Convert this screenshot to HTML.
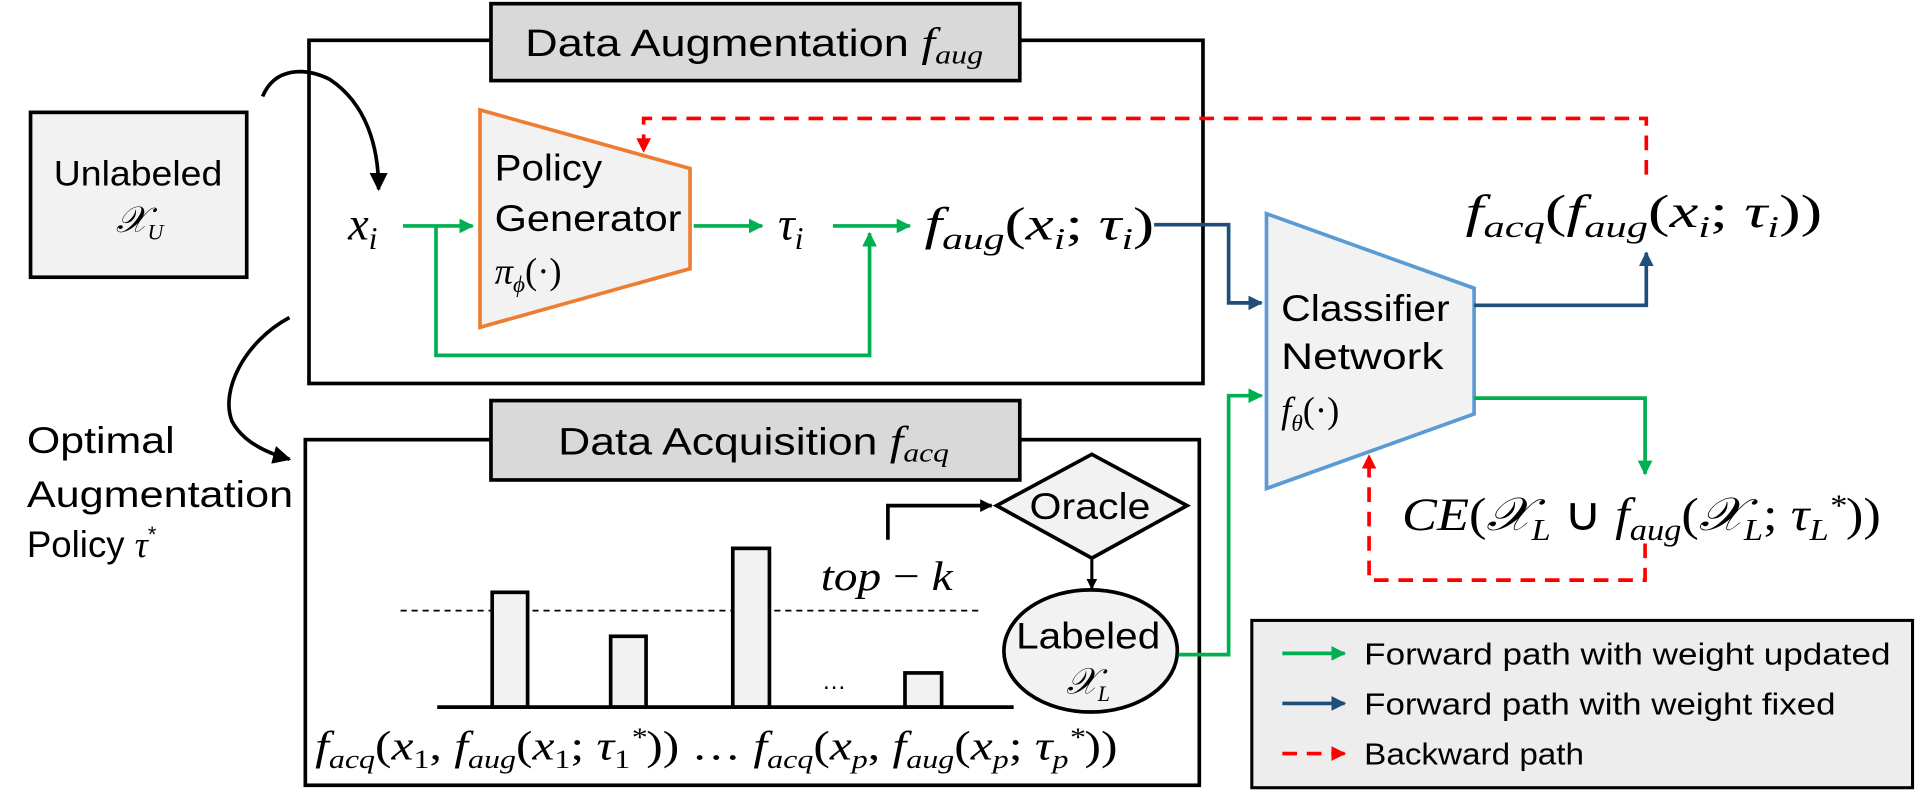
<!DOCTYPE html>
<html><head><meta charset="utf-8"><style>
html,body{margin:0;padding:0;background:#fff;width:1915px;height:792px;overflow:hidden}
svg{display:block}
.s{font-family:"Liberation Sans",sans-serif}
.m{font-family:"Liberation Serif",serif;font-style:italic}
</style></head><body>
<svg width="1915" height="792" viewBox="0 0 1568 648.5" xmlns="http://www.w3.org/2000/svg">
<defs>
<marker id="ag" viewBox="0 0 10 10" refX="9" refY="5" markerWidth="4" markerHeight="4" orient="auto"><path d="M0,0L10,5L0,10z" fill="#00B050"/></marker>
<marker id="ab" viewBox="0 0 10 10" refX="9" refY="5" markerWidth="4" markerHeight="4" orient="auto"><path d="M0,0L10,5L0,10z" fill="#1F4E79"/></marker>
<marker id="ar" viewBox="0 0 10 10" refX="9" refY="5" markerWidth="4" markerHeight="4" orient="auto"><path d="M0,0L10,5L0,10z" fill="#FF0000"/></marker>
<marker id="ak" viewBox="0 0 10 10" refX="9" refY="5" markerWidth="5" markerHeight="5" orient="auto"><path d="M0,0L10,5L0,10z" fill="#000"/></marker>
<marker id="ak2" viewBox="0 0 10 10" refX="9" refY="5" markerWidth="3.5" markerHeight="3.5" orient="auto"><path d="M0,0L10,5L0,10z" fill="#000"/></marker>
</defs>
<!-- Aug box -->
<rect x="253" y="33" width="732" height="281" fill="none" stroke="#000" stroke-width="3"/>
<rect x="402" y="3" width="433" height="63" fill="#D9D9D9" stroke="#000" stroke-width="3"/>
<text x="430" y="46" font-size="31" class="s" textLength="375" lengthAdjust="spacingAndGlyphs">Data Augmentation <tspan class="m" font-size="34">f</tspan><tspan class="m" font-size="22" dy="6">aug</tspan></text>
<!-- Unlabeled -->
<rect x="25" y="92" width="177" height="135" fill="#F2F2F2" stroke="#000" stroke-width="3"/>
<text x="44" y="152" font-size="29" class="s" textLength="138" lengthAdjust="spacingAndGlyphs">Unlabeled</text>
<text x="95" y="190" font-size="30" class="m">𝒳<tspan font-size="18" dy="6">U</tspan></text>
<!-- curves -->
<path d="M215,79 C225,55 250,55 270,65 C300,85 310,120 310,155" fill="none" stroke="#000" stroke-width="3" marker-end="url(#ak)"/>
<path d="M237,260 C200,280 180,320 190,345 C198,360 215,370 237,376" fill="none" stroke="#000" stroke-width="3" marker-end="url(#ak)"/>
<!-- policy generator -->
<path d="M393,90 L565,138 L565,220 L393,268 Z" fill="#F2F2F2" stroke="#ED7D31" stroke-width="3"/>
<text x="405" y="148" font-size="30" class="s" textLength="88" lengthAdjust="spacingAndGlyphs">Policy</text>
<text x="405" y="189" font-size="30" class="s" textLength="153" lengthAdjust="spacingAndGlyphs">Generator</text>
<text x="405" y="232" font-size="30" class="m">π<tspan font-size="19" dy="7">ϕ</tspan><tspan dy="-7" style="font-style:normal">(·)</tspan></text>
<text x="285" y="196" font-size="38" class="m">x<tspan font-size="26" dy="8">i</tspan></text>
<path d="M330,185 L387,185" stroke="#00B050" stroke-width="3" fill="none" marker-end="url(#ag)"/>
<path d="M357,185 L357,291 L712,291 L712,191" stroke="#00B050" stroke-width="3" fill="none" marker-end="url(#ag)"/>
<path d="M568,185 L624,185" stroke="#00B050" stroke-width="3" fill="none" marker-end="url(#ag)"/>
<text x="637" y="196" font-size="38" class="m">τ<tspan font-size="26" dy="8">i</tspan></text>
<path d="M682,185 L745,185" stroke="#00B050" stroke-width="3" fill="none" marker-end="url(#ag)"/>
<text x="757" y="196" font-size="38" class="m" textLength="188" lengthAdjust="spacingAndGlyphs">f<tspan font-size="25" dy="8">aug</tspan><tspan dy="-8" style="font-style:normal">(</tspan>x<tspan font-size="25" dy="8">i</tspan><tspan dy="-8" style="font-style:normal">; </tspan>τ<tspan font-size="25" dy="8">i</tspan><tspan dy="-8" style="font-style:normal">)</tspan></text>
<path d="M945,184 L1006,184 L1006,248 L1033,248" stroke="#1F4E79" stroke-width="3" fill="none" marker-end="url(#ab)"/>
<!-- classifier -->
<path d="M1037,175 L1207,236 L1207,339 L1037,400 Z" fill="#F2F2F2" stroke="#5B9BD5" stroke-width="3"/>
<text x="1049" y="263" font-size="30" class="s" textLength="138" lengthAdjust="spacingAndGlyphs">Classifier</text>
<text x="1049" y="302" font-size="30" class="s" textLength="133" lengthAdjust="spacingAndGlyphs">Network</text>
<text x="1049" y="346" font-size="30" class="m">f<tspan font-size="19" dy="7">θ</tspan><tspan dy="-7" style="font-style:normal">(·)</tspan></text>
<path d="M1207,250 L1348,250 L1348,207" stroke="#1F4E79" stroke-width="3" fill="none" marker-end="url(#ab)"/>
<text x="1200" y="186" font-size="38" class="m" textLength="292" lengthAdjust="spacingAndGlyphs">f<tspan font-size="25" dy="8">acq</tspan><tspan dy="-8" style="font-style:normal">(</tspan>f<tspan font-size="25" dy="8">aug</tspan><tspan dy="-8" style="font-style:normal">(</tspan>x<tspan font-size="25" dy="8">i</tspan><tspan dy="-8" style="font-style:normal">; </tspan>τ<tspan font-size="25" dy="8">i</tspan><tspan dy="-8" style="font-style:normal">))</tspan></text>
<path d="M1348,143 L1348,97 L527,97 L527,124" stroke="#FF0000" stroke-width="3" stroke-dasharray="12,8" fill="none" marker-end="url(#ar)"/>
<path d="M1207,326 L1347,326 L1347,388" stroke="#00B050" stroke-width="3" fill="none" marker-end="url(#ag)"/>
<text x="1148" y="434" font-size="38" class="m" textLength="392" lengthAdjust="spacingAndGlyphs">CE<tspan style="font-style:normal">(</tspan>𝒳<tspan font-size="25" dy="8">L</tspan><tspan dy="-8" style="font-style:normal"> ∪ </tspan>f<tspan font-size="25" dy="8">aug</tspan><tspan dy="-8" style="font-style:normal">(</tspan>𝒳<tspan font-size="25" dy="8">L</tspan><tspan dy="-8" style="font-style:normal">; </tspan>τ<tspan font-size="25" dy="8">L</tspan><tspan font-size="25" dy="-20">*</tspan><tspan dy="12" style="font-style:normal">))</tspan></text>
<path d="M1347,445 L1347,475 L1121,475 L1121,373" stroke="#FF0000" stroke-width="3" stroke-dasharray="12,8" fill="none" marker-end="url(#ar)"/>
<!-- Optimal -->
<text x="22" y="371" font-size="30" class="s" textLength="121" lengthAdjust="spacingAndGlyphs">Optimal</text>
<text x="22" y="415" font-size="30" class="s" textLength="218" lengthAdjust="spacingAndGlyphs">Augmentation</text>
<text x="22" y="456" font-size="30" class="s">Policy <tspan class="m">τ</tspan><tspan font-size="18" dy="-12">*</tspan></text>
<!-- Acq box -->
<rect x="250" y="360" width="732" height="283" fill="none" stroke="#000" stroke-width="3"/>
<rect x="402" y="328" width="433" height="65" fill="#D9D9D9" stroke="#000" stroke-width="3"/>
<text x="457" y="372" font-size="31" class="s" textLength="320" lengthAdjust="spacingAndGlyphs">Data Acquisition <tspan class="m" font-size="34">f</tspan><tspan class="m" font-size="22" dy="6">acq</tspan></text>
<path d="M894,372 L972,414 L894,457 L816,414 Z" fill="#F2F2F2" stroke="#000" stroke-width="3"/>
<text x="843" y="425" font-size="30" class="s" textLength="99" lengthAdjust="spacingAndGlyphs">Oracle</text>
<path d="M727,442 L727,414 L812,414" stroke="#000" stroke-width="3" fill="none" marker-end="url(#ak2)"/>
<path d="M894,457 L894,482" stroke="#000" stroke-width="2.5" fill="none" marker-end="url(#ak2)"/>
<ellipse cx="893" cy="533" rx="71" ry="50" fill="#F2F2F2" stroke="#000" stroke-width="3"/>
<text x="832" y="531" font-size="30" class="s" textLength="118" lengthAdjust="spacingAndGlyphs">Labeled</text>
<text x="873" y="568" font-size="30" class="m">𝒳<tspan font-size="18" dy="6">L</tspan></text>
<text x="672" y="483" font-size="34" class="m" textLength="108" lengthAdjust="spacingAndGlyphs">top <tspan style="font-style:normal">−</tspan> k</text>
<path d="M328,500 L805,500" stroke="#000" stroke-width="1.5" stroke-dasharray="5,4"/>
<rect x="403" y="485" width="29" height="94" fill="#F2F2F2" stroke="#000" stroke-width="3"/>
<rect x="500" y="521" width="29" height="58" fill="#F2F2F2" stroke="#000" stroke-width="3"/>
<rect x="600" y="449" width="30" height="130" fill="#F2F2F2" stroke="#000" stroke-width="3"/>
<rect x="741" y="551" width="30" height="28" fill="#F2F2F2" stroke="#000" stroke-width="3"/>
<path d="M358,579 L830,579" stroke="#000" stroke-width="3"/>
<text x="673" y="564" font-size="20" class="s">…</text>
<text x="258" y="622" font-size="34" class="m" textLength="657" lengthAdjust="spacingAndGlyphs">f<tspan font-size="22" dy="7">acq</tspan><tspan dy="-7" style="font-style:normal">(</tspan>x<tspan font-size="22" dy="7" style="font-style:normal">1</tspan><tspan dy="-7" style="font-style:normal">, </tspan>f<tspan font-size="22" dy="7">aug</tspan><tspan dy="-7" style="font-style:normal">(</tspan>x<tspan font-size="22" dy="7" style="font-style:normal">1</tspan><tspan dy="-7" style="font-style:normal">; </tspan>τ<tspan font-size="22" dy="7" style="font-style:normal">1</tspan><tspan font-size="22" dy="-18">*</tspan><tspan dy="11" style="font-style:normal">))  …  </tspan>f<tspan font-size="22" dy="7">acq</tspan><tspan dy="-7" style="font-style:normal">(</tspan>x<tspan font-size="22" dy="7">p</tspan><tspan dy="-7" style="font-style:normal">, </tspan>f<tspan font-size="22" dy="7">aug</tspan><tspan dy="-7" style="font-style:normal">(</tspan>x<tspan font-size="22" dy="7">p</tspan><tspan dy="-7" style="font-style:normal">; </tspan>τ<tspan font-size="22" dy="7">p</tspan><tspan font-size="22" dy="-18">*</tspan><tspan dy="11" style="font-style:normal">))</tspan></text>
<path d="M965,536 L1006,536 L1006,324 L1033,324" stroke="#00B050" stroke-width="3" fill="none" marker-end="url(#ag)"/>
<!-- legend -->
<rect x="1025" y="508" width="541" height="137" fill="#EDEDED" stroke="#000" stroke-width="2.5"/>
<path d="M1050,535 L1101,535" stroke="#00B050" stroke-width="3" marker-end="url(#ag)"/>
<path d="M1050,576 L1101,576" stroke="#1F4E79" stroke-width="3" marker-end="url(#ab)"/>
<path d="M1050,617 L1101,617" stroke="#FF0000" stroke-width="3" stroke-dasharray="12,8" marker-end="url(#ar)"/>
<text x="1117" y="544" font-size="25" class="s" textLength="431" lengthAdjust="spacingAndGlyphs">Forward path with weight updated</text>
<text x="1117" y="585" font-size="25" class="s" textLength="386" lengthAdjust="spacingAndGlyphs">Forward path with weight fixed</text>
<text x="1117" y="626" font-size="25" class="s" textLength="180" lengthAdjust="spacingAndGlyphs">Backward path</text>
</svg>
</body></html>
